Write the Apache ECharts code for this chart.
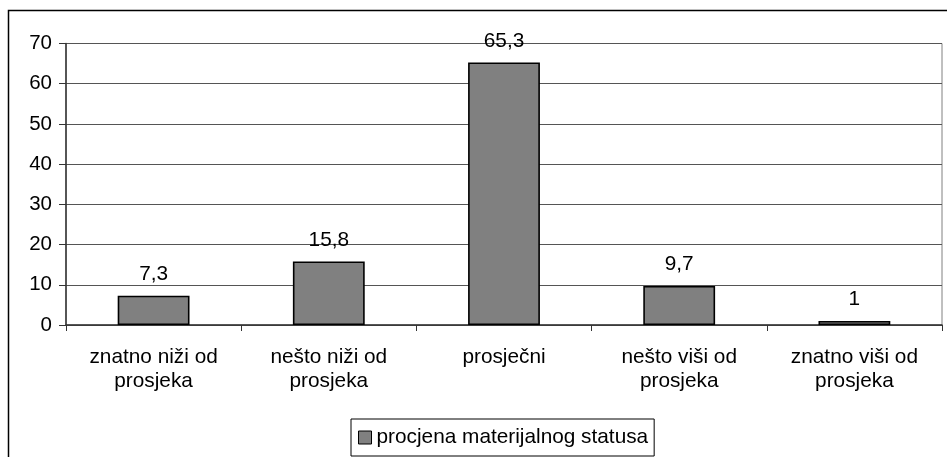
<!DOCTYPE html>
<html>
<head>
<meta charset="utf-8">
<script src="https://cdn.jsdelivr.net/npm/echarts@6/dist/echarts.min.js"></script>
<style>
html,body{margin:0;padding:0;background:#fff;}
#c{width:947px;height:457px;}
</style>
</head>
<body>
<div id="c"></div>
<script>
var categories = ['znatno niži od\nprosjeka', 'nešto niži od\nprosjeka', 'prosječni', 'nešto viši od\nprosjeka', 'znatno viši od\nprosjeka'];
var values = [7.3, 15.8, 65.3, 9.7, 1];
var seriesName = 'procjena materijalnog statusa';
var yTicks = [0, 10, 20, 30, 40, 50, 60, 70];

var FONT = '"Liberation Sans", Arial, sans-serif';
var chart = echarts.init(document.getElementById('c'), null, {renderer: 'canvas'});
chart.setOption({
  animation: false,
  backgroundColor: '#fff',
  textStyle: {fontFamily: FONT},
  grid: {left: 66, right: 5, top: 43.5, bottom: 132, show: true, borderColor: '#808080', borderWidth: 1, backgroundColor: 'transparent'},
  xAxis: {
    type: 'category',
    data: categories,
    axisLine: {lineStyle: {color: '#333', width: 1.5}},
    axisTick: {show: true, length: 6, lineStyle: {color: '#333'}, alignWithLabel: false},
    axisLabel: {fontSize: 20.8, color: '#000', fontFamily: FONT, margin: 20, lineHeight: 24, interval: 0}
  },
  yAxis: {
    type: 'value',
    min: yTicks[0],
    max: yTicks[yTicks.length - 1],
    interval: 10,
    axisLine: {show: true, lineStyle: {color: '#333', width: 1.5}},
    axisTick: {show: true, length: 7, lineStyle: {color: '#333'}},
    axisLabel: {fontSize: 20.5, color: '#000', fontFamily: FONT, margin: 14},
    splitLine: {show: true, lineStyle: {color: '#555', width: 1.2}}
  },
  legend: {
    show: true,
    left: 351,
    top: 419,
    orient: 'horizontal',
    padding: [8, 6, 8, 7],
    borderColor: '#000',
    borderWidth: 1,
    itemWidth: 13,
    itemHeight: 13,
    icon: 'rect',
    itemStyle: {borderColor: '#000', borderWidth: 1},
    textStyle: {fontSize: 20.8, color: '#000', fontFamily: FONT, lineHeight: 21},
    data: [seriesName]
  },
  series: [{
    name: seriesName,
    type: 'bar',
    data: values,
    barWidth: '41%',
    itemStyle: {color: '#808080', borderColor: '#000', borderWidth: 1.6},
    label: {
      show: true,
      position: 'top',
      distance: 11,
      fontSize: 20.8,
      color: '#000',
      fontFamily: FONT,
      formatter: function (p) { return String(p.value).replace('.', ','); }
    }
  }],
  graphic: [{
    type: 'rect',
    shape: {x: 8.5, y: 10.5, width: 1000, height: 500},
    style: {fill: 'none', stroke: '#000', lineWidth: 1.5},
    silent: true,
    z: 100
  }]
});
</script>
</body>
</html>
